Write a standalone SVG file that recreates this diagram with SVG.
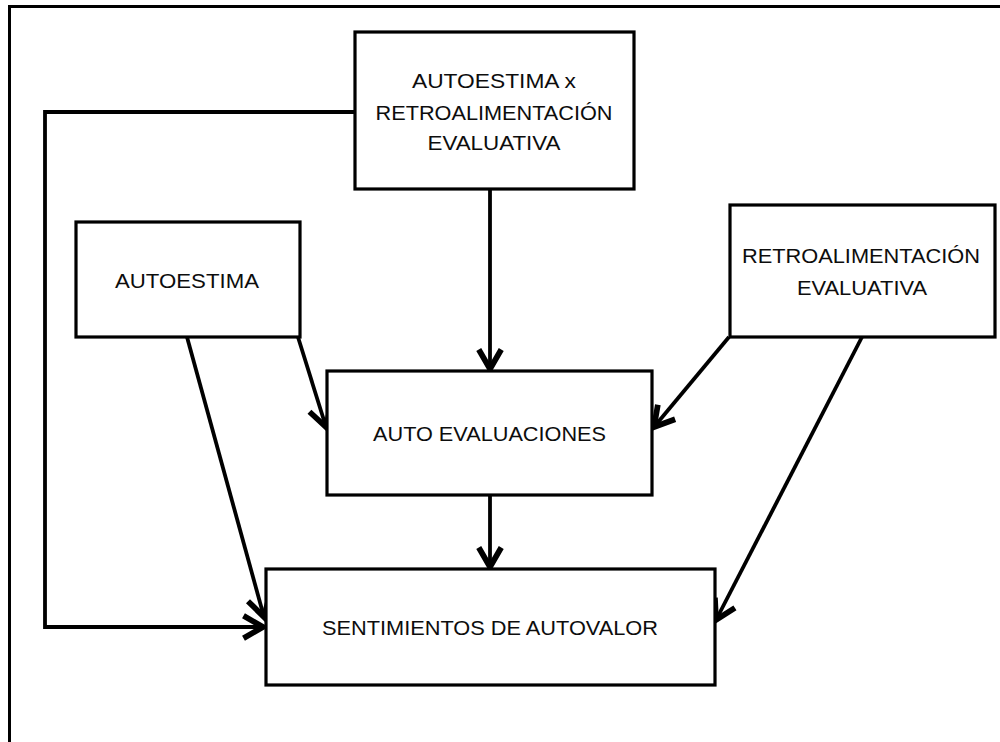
<svg xmlns="http://www.w3.org/2000/svg" width="1000" height="742" viewBox="0 0 1000 742">
  <style>
    .box { fill: #ffffff; stroke: #000000; stroke-width: 3.2; }
    .lbl { font-family: "Liberation Sans", Arial, sans-serif; font-size: 21px; fill: #0d0d0d; text-anchor: middle; }
    .link { fill: none; stroke: #000000; stroke-width: 3.8; stroke-linejoin: miter; }
    .frame { fill: none; stroke: #000000; stroke-width: 3; }
  </style>
  <defs>
    <marker id="arrow" markerUnits="userSpaceOnUse" markerWidth="30" markerHeight="30" viewBox="-16 -10 20 20" refX="0" refY="0" orient="auto">
      <path d="M-13,-7.5 L0,0 L-13,7.5" fill="none" stroke="#000000" stroke-width="3.8" stroke-linejoin="miter"/>
    </marker>
  </defs>

  <rect width="1000" height="742" fill="#ffffff"/>

  <!-- page frame: top and left edges only -->
  <path class="frame" d="M9.5,742 L9.5,6.5 L1000,6.5"/>

  <!-- connectors -->
  <g id="connectors">
    <path class="link" d="M355,112 L45,112 L45,627 L263,627" marker-end="url(#arrow)"/>
    <path class="link" d="M490,189 L490,369" marker-end="url(#arrow)"/>
    <path class="link" d="M298,337 L326,427" marker-end="url(#arrow)"/>
    <path class="link" d="M187,337 L264,617" marker-end="url(#arrow)"/>
    <path class="link" d="M490,495 L490,567" marker-end="url(#arrow)"/>
    <path class="link" d="M729,337 L654,427" marker-end="url(#arrow)"/>
    <path class="link" d="M862,337 L716,620" marker-end="url(#arrow)"/>
  </g>

  <g id="autoestima-x-retro">
    <rect class="box" x="355" y="32" width="279" height="157"/>
    <text class="lbl" x="494" y="88" textLength="164" lengthAdjust="spacingAndGlyphs">AUTOESTIMA x</text>
    <text class="lbl" x="494" y="120" textLength="237" lengthAdjust="spacingAndGlyphs">RETROALIMENTACIÓN</text>
    <text class="lbl" x="494" y="150" textLength="133" lengthAdjust="spacingAndGlyphs">EVALUATIVA</text>
  </g>

  <g id="autoestima">
    <rect class="box" x="76" y="222" width="224" height="115"/>
    <text class="lbl" x="187" y="288" textLength="144" lengthAdjust="spacingAndGlyphs">AUTOESTIMA</text>
  </g>

  <g id="retroalimentacion">
    <rect class="box" x="730" y="205" width="265" height="132"/>
    <text class="lbl" x="861" y="263" textLength="238" lengthAdjust="spacingAndGlyphs">RETROALIMENTACIÓN</text>
    <text class="lbl" x="862" y="295" textLength="130" lengthAdjust="spacingAndGlyphs">EVALUATIVA</text>
  </g>

  <g id="auto-evaluaciones">
    <rect class="box" x="327" y="371" width="325" height="124"/>
    <text class="lbl" x="489.5" y="441" textLength="233" lengthAdjust="spacingAndGlyphs">AUTO EVALUACIONES</text>
  </g>

  <g id="sentimientos">
    <rect class="box" x="266" y="569" width="449" height="116"/>
    <text class="lbl" x="490" y="635" textLength="336" lengthAdjust="spacingAndGlyphs">SENTIMIENTOS DE AUTOVALOR</text>
  </g>
</svg>
